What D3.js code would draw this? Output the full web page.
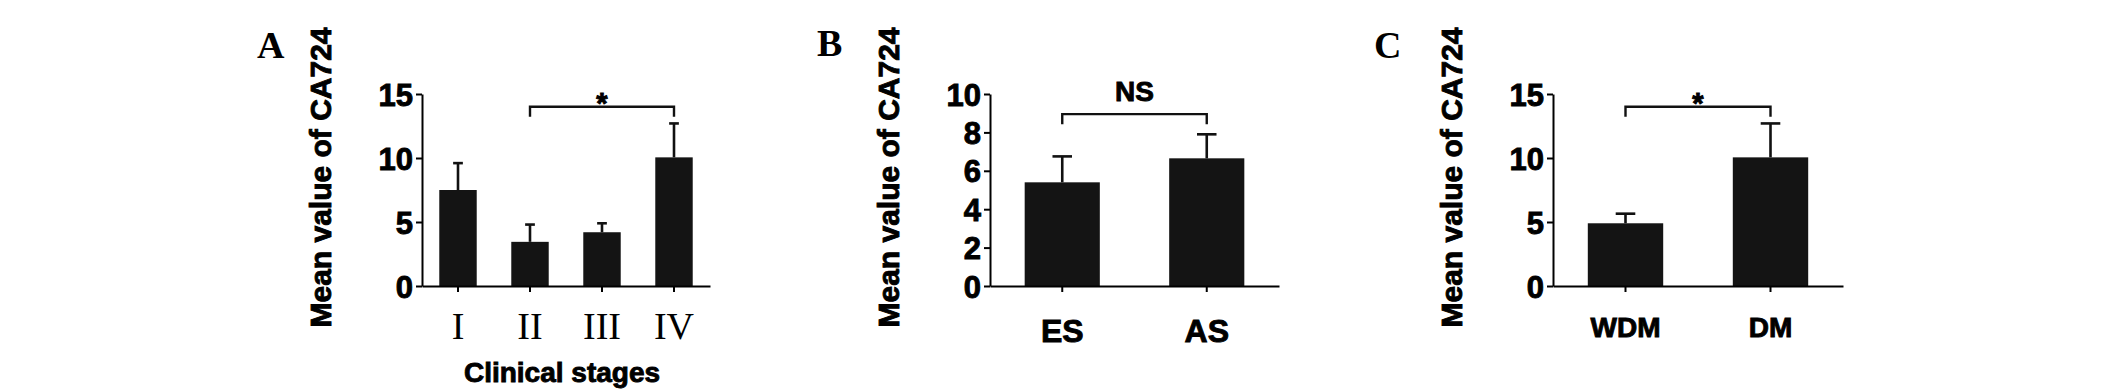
<!DOCTYPE html>
<html>
<head>
<meta charset="utf-8">
<script src="https://cdn.jsdelivr.net/npm/d3@7"></script>
<style>
body{margin:0;background:#fff}
svg{display:block}
.axis path,.axis line{stroke:#000;stroke-width:2}
.axis text{fill:#000}
.heavy{stroke:#000;stroke-width:0.9;paint-order:stroke}
</style>
</head>
<body>
<svg width="2126" height="392"></svg>
<script>
// panel A: clinical stages
const stageNames = ['I', 'II', 'III', 'IV']
const stageMean = [7.5, 3.45, 4.2, 10.05]
const stageSem = [2.1, 1.35, 0.7, 2.65]
const stageTicks = [0, 5, 10, 15]
const stageSig = {a: 'II', b: 'IV', text: '*', level: 14}

// panel B: ES vs AS
const phaseNames = ['ES', 'AS']
const phaseMean = [5.4, 6.65]
const phaseSem = [1.35, 1.25]
const phaseTicks = [0, 2, 4, 6, 8, 10]
const phaseSig = {a: 'ES', b: 'AS', text: 'NS', level: 8.95}

// panel C: WDM vs DM
const metaNames = ['WDM', 'DM']
const metaMean = [4.9, 10.05]
const metaSem = [0.75, 2.65]
const metaTicks = [0, 5, 10, 15]
const metaSig = {a: 'WDM', b: 'DM', text: '*', level: 14}

const sans = '"Liberation Sans", Arial, sans-serif'
const serif = '"Liberation Serif", "Times New Roman", serif'
const svg = d3.select('svg')
const plotTop = 94, plotBottom = 286

function panel(s) {
  let g = svg.append('g')
  let x = d3.scaleBand().domain(s.names).range([s.left, s.right]).paddingInner(0.48).paddingOuter(0.24)
  let y = d3.scaleLinear().domain([0, d3.max(s.ticks)]).range([plotBottom, plotTop])
  let rows = s.names.map(function(n, i) { return {name: n, mean: s.mean[i], sem: s.sem[i]} })

  g.selectAll('.bar').data(rows).enter().append('rect')
    .attr('class', 'bar')
    .attr('x', function(d) { return x(d.name) })
    .attr('width', x.bandwidth())
    .attr('y', function(d) { return y(d.mean) })
    .attr('height', function(d) { return plotBottom - y(d.mean) })
    .attr('fill', '#141414')

  let cap = x.bandwidth() * 0.26
  let err = g.selectAll('.err').data(rows).enter().append('g').attr('class', 'err')
    .attr('stroke', '#111').attr('stroke-width', 2.6)
  err.append('line')
    .attr('x1', function(d) { return x(d.name) + x.bandwidth() / 2 })
    .attr('x2', function(d) { return x(d.name) + x.bandwidth() / 2 })
    .attr('y1', function(d) { return y(d.mean) })
    .attr('y2', function(d) { return y(d.mean + d.sem) })
  err.append('line')
    .attr('x1', function(d) { return x(d.name) + x.bandwidth() / 2 - cap / 2 })
    .attr('x2', function(d) { return x(d.name) + x.bandwidth() / 2 + cap / 2 })
    .attr('y1', function(d) { return y(d.mean + d.sem) })
    .attr('y2', function(d) { return y(d.mean + d.sem) })

  let ya = g.append('g').attr('class', 'axis')
    .attr('transform', 'translate(' + s.left + ',0)')
    .call(d3.axisLeft(y).tickValues(s.ticks).tickSize(6).tickSizeOuter(0).tickPadding(3))
  ya.selectAll('text')
    .attr('class', 'heavy')
    .attr('font-family', sans).attr('font-weight', 'bold').attr('font-size', 31)
    .attr('dy', '0.36em')

  let xa = g.append('g').attr('class', 'axis')
    .attr('transform', 'translate(0,' + plotBottom + ')')
    .call(d3.axisBottom(x).tickSize(6).tickSizeOuter(0))
  xa.selectAll('text')
    .attr('class', s.catWeight === 'bold' ? 'heavy' : null)
    .attr('font-family', s.catFont).attr('font-weight', s.catWeight).attr('font-size', s.catSize)
    .attr('dy', null).attr('y', s.catY)
  ya.select('.domain').attr('stroke-width', 2.2)
  xa.select('.domain').attr('stroke-width', 2.2)

  // y title
  g.append('text')
    .attr('class', 'heavy')
    .attr('transform', 'translate(' + (s.left - 91) + ',177.5) rotate(-90)')
    .attr('text-anchor', 'middle')
    .attr('font-family', sans).attr('font-weight', 'bold').attr('font-size', 30)
    .text('Mean value of CA724')

  if (s.xTitle) {
    g.append('text')
      .attr('class', 'heavy')
      .attr('x', (s.left + s.right) / 2 - 4).attr('y', 381.5)
      .attr('text-anchor', 'middle')
      .attr('font-family', sans).attr('font-weight', 'bold').attr('font-size', 28)
      .text(s.xTitle)
  }

  // panel letter
  g.append('text')
    .attr('x', s.letterX).attr('y', s.letterY)
    .attr('font-family', serif).attr('font-weight', 'bold').attr('font-size', 38)
    .text(s.letter)

  // significance bracket
  let xa1 = x(s.sig.a) + x.bandwidth() / 2
  let xb1 = x(s.sig.b) + x.bandwidth() / 2
  let yl = y(s.sig.level)
  g.append('path')
    .attr('d', 'M' + xa1 + ',' + (yl + 10) + 'V' + yl + 'H' + xb1 + 'V' + (yl + 10))
    .attr('fill', 'none').attr('stroke', '#111').attr('stroke-width', 2.4)
  let star = s.sig.text === '*'
  g.append('text')
    .attr('class', 'heavy')
    .attr('x', (xa1 + xb1) / 2).attr('y', star ? yl + 6 : yl - 13.6)
    .attr('text-anchor', 'middle')
    .attr('font-family', sans).attr('font-weight', 'bold').attr('font-size', star ? 29 : 28)
    .text(s.sig.text)
}

panel({names: stageNames, mean: stageMean, sem: stageSem, ticks: stageTicks, sig: stageSig,
  left: 422, right: 710, letter: 'A', letterX: 257, letterY: 58,
  catFont: serif, catWeight: 'normal', catSize: 38, catY: 53, xTitle: 'Clinical stages'})
panel({names: phaseNames, mean: phaseMean, sem: phaseSem, ticks: phaseTicks, sig: phaseSig,
  left: 990, right: 1279, letter: 'B', letterX: 817, letterY: 56,
  catFont: sans, catWeight: 'bold', catSize: 32, catY: 55.7})
panel({names: metaNames, mean: metaMean, sem: metaSem, ticks: metaTicks, sig: metaSig,
  left: 1553, right: 1843, letter: 'C', letterX: 1374, letterY: 57.7,
  catFont: sans, catWeight: 'bold', catSize: 28, catY: 50.7})
</script>
</body>
</html>
